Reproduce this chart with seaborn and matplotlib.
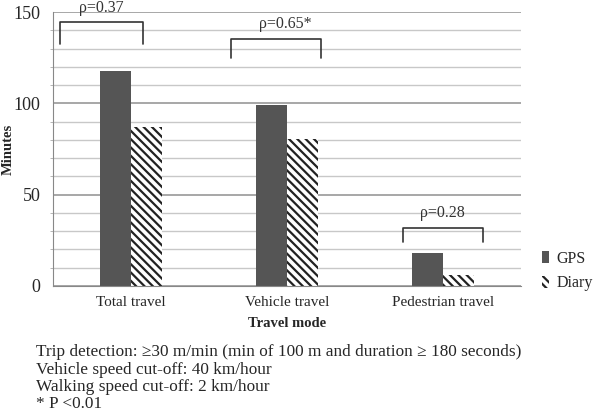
import seaborn as sns
import pandas as pd
import matplotlib.pyplot as plt

# data
modes = ["Total travel", "Vehicle travel", "Pedestrian travel"]
gps = [118, 99, 18]
diary = [87, 80.5, 6]
rho_labels = ["\u03c1=0.37", "\u03c1=0.65*", "\u03c1=0.28"]
# bracket: (x left, x right, y bottom, y top, text y) in data units
brackets = [(-0.455, 0.077, 132.5, 144.5, 152.3),
            (-0.36, 0.22, 125, 135, 143.5),
            (-0.256, 0.26, 24, 32, 40)]
text_x = [-0.19, -0.01, 0.0]

df = pd.DataFrame({
    "mode": modes * 2,
    "minutes": gps + diary,
    "source": ["GPS"] * 3 + ["Diary"] * 3,
})

sns.set_style("white")
plt.rcParams["font.family"] = ["Liberation Serif", "DejaVu Serif"]
plt.rcParams["hatch.linewidth"] = 1.6

fig = plt.figure(figsize=(6, 4.16), dpi=100)
ax = fig.add_axes([0.088, 0.3125, 0.78, 0.6585])

sns.barplot(data=df, x="mode", y="minutes", hue="source",
            palette={"GPS": "#555555", "Diary": "white"},
            width=0.4, linewidth=0, ax=ax, legend=True)

for bar in ax.containers[1]:
    bar.set_hatch("\\\\\\\\")
    bar.set_edgecolor("#222222")
    bar.set_linewidth(0)

ax.set_ylim(0, 150)
ax.set_xlim(-0.5, 2.5)
ax.set_yticks([0, 50, 100, 150])
ax.set_yticks(range(0, 151, 10), minor=True)
ax.grid(axis="y", which="minor", color="#c8c8c8", linewidth=1)
ax.grid(axis="y", which="major", color="#a0a0a0", linewidth=1.3)
ax.set_axisbelow(True)
for s in ["top", "right"]:
    ax.spines[s].set_visible(False)
ax.spines["left"].set_color("#888888")
ax.spines["bottom"].set_color("#888888")
ax.tick_params(axis="y", which="major", length=5, color="#888888", labelsize=13, pad=4)
ax.tick_params(axis="y", which="minor", length=2, color="#aaaaaa", left=True)
ax.tick_params(axis="x", length=0, labelsize=11, pad=7)

ax.set_ylabel("Minutes", fontsize=10.5, fontweight="bold")
ax.yaxis.set_label_coords(-0.082, 0.5)
ax.set_xlabel("Travel mode", fontsize=10.5, fontweight="bold", labelpad=6)

for i, (x0, x1, yb, yt, ty) in enumerate(brackets):
    ax.plot([i + x0, i + x0, i + x1, i + x1], [yb, yt, yt, yb],
            color="#333333", linewidth=1.2, clip_on=False)
    ax.text(i + text_x[i], ty, rho_labels[i], ha="center", va="center",
            fontsize=11.5, color="#333333", clip_on=False)

leg = ax.legend(loc="center left", bbox_to_anchor=(1.015, 0.055), frameon=False,
                fontsize=11.5, handlelength=0.4, handleheight=0.8,
                handletextpad=0.5, labelspacing=0.55)
diary_handle = leg.legend_handles[1]
diary_handle.set_hatch("\\\\\\\\")
diary_handle.set_edgecolor("#222222")
diary_handle.set_facecolor("white")
diary_handle.set_linewidth(0)

notes = ["Trip detection: \u226530 m/min (min of 100 m and duration \u2265 180 seconds)",
         "Vehicle speed cut-off: 40 km/hour",
         "Walking speed cut-off: 2 km/hour",
         "* P <0.01"]
for k, line in enumerate(notes):
    fig.text(0.06, 1 - (352 + 17.5 * k) / 416, line, fontsize=12.4,
             va="center", ha="left")

fig.savefig("out.png", dpi=100)
